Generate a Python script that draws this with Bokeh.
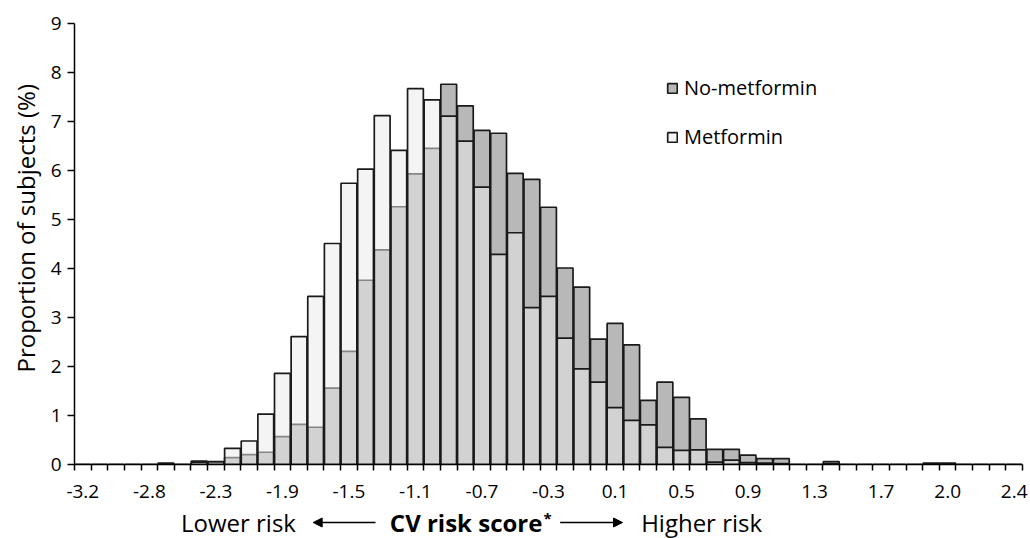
from bokeh.plotting import figure
from bokeh.layouts import column
from bokeh.models import (FixedTicker, Arrow, NormalHead, Legend, LegendItem,
                          ColumnDataSource, Range1d, Title)
from bokeh.core.properties import value
from bokeh.embed import file_html
from bokeh.resources import INLINE

# ---- data -------------------------------------------------------------
tick_labels = ["-3.2", "-2.8", "-2.3", "-1.9", "-1.5", "-1.1", "-0.7", "-0.3",
               "0.1", "0.5", "0.9", "1.3", "1.7", "2.0", "2.4"]

no_metformin = [0, 0, 0, 0, 0, 0.0, 0, 0.07, 0.05, 0.14,
                0.20, 0.25, 0.57, 0.82, 0.76, 1.56, 2.31, 3.76, 4.38, 5.26,
                5.93, 6.45, 7.76, 7.32, 6.82, 6.76, 5.94, 5.82, 5.25, 4.01,
                3.62, 2.56, 2.88, 2.44, 1.31, 1.68, 1.37, 0.93, 0.31, 0.31,
                0.19, 0.12, 0.12, 0, 0, 0.06, 0, 0, 0, 0,
                0, 0.03, 0.03, 0, 0, 0, 0]

metformin = [0, 0, 0, 0, 0, 0.03, 0, 0.05, 0.06, 0.33,
             0.48, 1.03, 1.86, 2.61, 3.43, 4.51, 5.74, 6.03, 7.12, 6.41,
             7.67, 7.44, 7.11, 6.60, 5.66, 4.29, 4.73, 3.20, 3.43, 2.58,
             1.95, 1.68, 1.16, 0.90, 0.81, 0.35, 0.29, 0.30, 0.05, 0.09,
             0.04, 0.03, 0.02, 0, 0, 0.02, 0, 0, 0, 0,
             0, 0, 0, 0, 0, 0, 0]

y_ticks = list(range(0, 10))

# ---- figure -----------------------------------------------------------
n_bins = len(metformin)
centers = [i + 0.5 for i in range(n_bins)]
src = ColumnDataSource(dict(x=centers, nm=no_metformin, m=metformin))

FONT = "Open Sans"
xr = Range1d(0, n_bins)

p = figure(width=1030, height=506, output_backend="svg", toolbar_location=None,
           x_range=xr, y_range=Range1d(0, 9),
           min_border_left=73, min_border_right=8, min_border_top=23,
           min_border_bottom=42)
p.outline_line_color = None
p.grid.visible = False

r_nm = p.vbar(x="x", top="nm", bottom=0, width=0.95, source=src,
              fill_color="#b8b8b8", line_color="#1a1a1a", line_width=1.7)
r_m = p.vbar(x="x", top="m", bottom=0, width=0.95, source=src,
             fill_color="#eaeaea", fill_alpha=0.52, line_color="#1a1a1a",
             line_width=1.7)

# x axis
lab_pos = [centers[i] for i in range(0, n_bins, 4)]
p.xaxis.ticker = FixedTicker(ticks=lab_pos, minor_ticks=list(range(0, n_bins + 1)))
p.xaxis.major_label_overrides = {pos: lab for pos, lab in zip(lab_pos, tick_labels)}
p.xaxis.major_tick_out = 0
p.xaxis.major_tick_in = 0
p.xaxis.minor_tick_out = 6
p.xaxis.minor_tick_in = 0
p.xaxis.minor_tick_line_color = "black"
p.xaxis.minor_tick_line_width = 1.5
p.xaxis.major_label_standoff = 14
p.xaxis.axis_line_width = 1.5
p.xaxis.axis_line_color = "black"
p.xaxis.major_label_text_font = FONT
p.xaxis.major_label_text_font_size = "19px"
p.xaxis.major_label_text_color = "black"

# y axis
p.yaxis.ticker = FixedTicker(ticks=y_ticks, minor_ticks=[])
p.yaxis.major_tick_out = 7
p.yaxis.major_tick_in = 0
p.yaxis.major_tick_line_width = 1.5
p.yaxis.major_tick_line_color = "black"
p.yaxis.axis_line_width = 1.5
p.yaxis.axis_line_color = "black"
p.yaxis.major_label_standoff = 6
p.yaxis.major_label_text_font = FONT
p.yaxis.major_label_text_font_size = "19px"
p.yaxis.major_label_text_color = "black"

p.add_layout(Title(text="Proportion of subjects (%)", align="left", offset=92,
                   text_font=FONT, text_font_size="24px", text_font_style="normal",
                   text_color="black", standoff=12), "left")

# legend
legend = Legend(items=[LegendItem(label="No-metformin", renderers=[r_nm]),
                       LegendItem(label="Metformin", renderers=[r_m])],
                location=(592, 314), glyph_width=12, glyph_height=12,
                label_height=20, spacing=22, padding=0, margin=0,
                label_standoff=6, border_line_color=None,
                background_fill_alpha=0,
                label_text_font=FONT, label_text_font_size="20px",
                label_text_color="black")
p.add_layout(legend)

# ---- bottom title strip ----------------------------------------------
p2 = figure(width=1030, height=32, output_backend="svg", toolbar_location=None,
            x_range=xr, y_range=Range1d(0, 32),
            min_border_left=73, min_border_right=8, min_border_top=0,
            min_border_bottom=0)
p2.outline_line_color = None
p2.grid.visible = False
p2.axis.visible = False

ty = 16
p2.text(x=[6.4], y=[ty], text=["Lower risk"], text_font=value(FONT),
        text_font_size="24px", text_baseline="middle", text_align="left",
        text_color="black")
p2.text(x=[18.96], y=[ty], text=["CV risk score"], text_font=value(FONT),
        text_font_style="bold", text_font_size="24px", text_baseline="middle",
        text_align="left", text_color="black")
p2.text(x=[28.2], y=[ty + 5], text=["*"], text_font=value(FONT),
        text_font_style="bold", text_font_size="15px", text_baseline="middle",
        text_align="left", text_color="black")
p2.text(x=[34.07], y=[ty], text=["Higher risk"], text_font=value(FONT),
        text_font_size="24px", text_baseline="middle", text_align="left",
        text_color="black")
p2.add_layout(Arrow(x_start=18.1, y_start=ty, x_end=14.35, y_end=ty,
                    line_width=1.5, line_color="black",
                    end=NormalHead(size=9, fill_color="black", line_color="black")))
p2.add_layout(Arrow(x_start=29.2, y_start=ty, x_end=32.95, y_end=ty,
                    line_width=1.5, line_color="black",
                    end=NormalHead(size=9, fill_color="black", line_color="black")))

layout = column(p, p2, spacing=0)
open("out.html", "w").write(file_html(layout, INLINE))
